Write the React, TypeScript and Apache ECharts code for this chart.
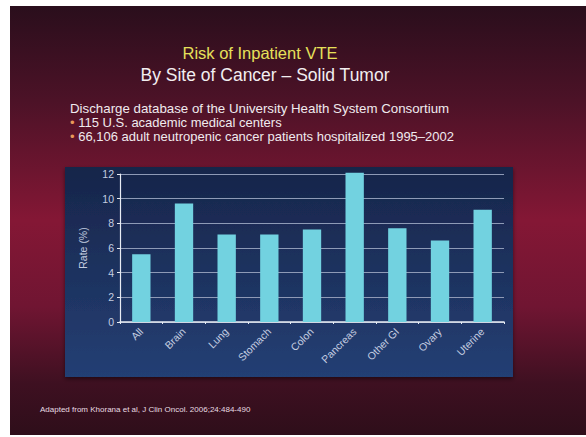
import React, { useEffect, useRef } from "react";
import * as echarts from "echarts";

const categories = ["All", "Brain", "Lung", "Stomach", "Colon", "Pancreas", "Other GI", "Ovary", "Uterine"];
const rates = [5.5, 9.6, 7.1, 7.1, 7.5, 12.1, 7.6, 6.6, 9.1];
const yTicks = [0, 2, 4, 6, 8, 10, 12];

const titleLine1 = "Risk of Inpatient VTE";
const titleLine2 = "By Site of Cancer \u2013 Solid Tumor";
const introLine = "Discharge database of the University Health System Consortium";
const bulletLines = [
  "115 U.S. academic medical centers",
  "66,106 adult neutropenic cancer patients hospitalized 1995\u20132002",
];
const footnote = "Adapted from Khorana et al, J Clin Oncol. 2006;24:484-490";

const FONT = "Liberation Sans, Arial, sans-serif";

export default function App() {
  const ref = useRef<HTMLDivElement>(null);

  useEffect(() => {
    if (!ref.current) return;
    const chart = echarts.init(ref.current, null, { renderer: "svg" });

    const graphic: any[] = [
      // slide background
      {
        type: "rect",
        z: -10,
        silent: true,
        shape: { x: 10, y: 6, width: 576, height: 429 },
        style: {
          fill: new echarts.graphic.LinearGradient(0, 0, 0, 1, [
            { offset: 0, color: "#2a0e1c" },
            { offset: 0.22, color: "#4c1227" },
            { offset: 0.5, color: "#841735" },
            { offset: 0.7, color: "#701532" },
            { offset: 0.88, color: "#3e1021" },
            { offset: 1, color: "#2e0e1a" },
          ]),
        },
      },
      // chart panel
      {
        type: "rect",
        z: -5,
        silent: true,
        shape: { x: 65, y: 167, width: 448, height: 210 },
        style: {
          fill: new echarts.graphic.LinearGradient(0, 0, 0, 1, [
            { offset: 0, color: "#17254a" },
            { offset: 1, color: "#243f74" },
          ]),
          shadowBlur: 4,
          shadowColor: "rgba(0,0,0,0.5)",
          shadowOffsetY: 2,
        },
      },
      {
        type: "text",
        x: 260,
        y: 53,
        style: {
          text: titleLine1,
          fill: "#e6e05a",
          font: `16.5px ${FONT}`,
          align: "center",
          verticalAlign: "middle",
        },
      },
      {
        type: "text",
        x: 265,
        y: 75,
        style: {
          text: titleLine2,
          fill: "#f2eef0",
          font: `17.5px ${FONT}`,
          align: "center",
          verticalAlign: "middle",
        },
      },
      {
        type: "text",
        x: 70,
        y: 108,
        style: {
          text: introLine,
          fill: "#f0eaee",
          font: `13.3px ${FONT}`,
          verticalAlign: "middle",
        },
      },
      ...bulletLines.map((line, i) => ({
        type: "text",
        x: 70,
        y: 122 + i * 14,
        style: {
          text: `{b|\u2022} ${line}`,
          fill: "#f0eaee",
          font: `13px ${FONT}`,
          verticalAlign: "middle",
          rich: {
            b: { fill: "#e89a5a", font: `13px ${FONT}` },
          },
        },
      })),
      {
        type: "text",
        x: 40,
        y: 409,
        style: {
          text: footnote,
          fill: "#e8dce2",
          font: `8px ${FONT}`,
          verticalAlign: "middle",
        },
      },
    ];

    chart.setOption({
      animation: false,
      backgroundColor: "#ffffff",
      graphic,
      grid: { left: 120, right: 82, top: 174, bottom: 115 },
      xAxis: {
        type: "category",
        data: categories,
        axisLine: { lineStyle: { color: "#e8ecf4", width: 1.5 } },
        axisTick: { show: true, alignWithLabel: false, length: 2, lineStyle: { color: "#e8ecf4" } },
        axisLabel: {
          rotate: 45,
          color: "#c4cde0",
          fontFamily: FONT,
          fontSize: 10.5,
          margin: 8,
        },
      },
      yAxis: {
        type: "value",
        min: 0,
        max: 12,
        interval: 2,
        name: "Rate (%)",
        nameLocation: "middle",
        nameRotate: 90,
        nameGap: 32,
        nameTextStyle: { color: "#c4cde0", fontFamily: FONT, fontSize: 10.5 },
        axisLine: { show: true, lineStyle: { color: "#e8ecf4", width: 1.2 } },
        axisTick: { show: true, length: 3, lineStyle: { color: "#e8ecf4" } },
        axisLabel: {
          color: "#c4cde0",
          fontFamily: FONT,
          fontSize: 10.5,
          margin: 6,
          formatter: (v: number) => (yTicks.includes(v) ? String(v) : ""),
        },
        splitLine: { lineStyle: { color: "#8e9ab6", width: 1 } },
      },
      series: [
        {
          type: "bar",
          data: rates,
          clip: false,
          barWidth: "43%",
          itemStyle: { color: "#72d2e0" },
        },
      ],
    });

    return () => chart.dispose();
  }, []);

  return (
    <div
      ref={ref}
      style={{ position: "fixed", left: 0, top: 0, width: 586, height: 437 }}
    />
  );
}
